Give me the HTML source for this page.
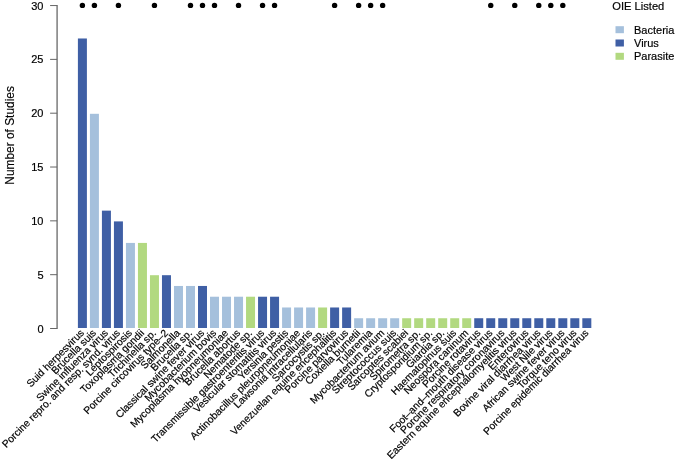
<!DOCTYPE html>
<html><head><meta charset="utf-8"><title>Number of Studies</title>
<style>html,body{margin:0;padding:0;background:#fff}svg{display:block}text{font-family:"Liberation Sans",Arial,Helvetica,sans-serif;fill:#000;stroke:#000;stroke-width:0.18px}</style></head><body>
<svg width="675" height="460" viewBox="0 0 675 460">
<rect width="675" height="460" fill="#fff"/>
<g stroke="#6e6e6e" stroke-width="1.1" fill="none">
<path d="M57.1 5.05 V329.00" stroke="#7c7c7c" stroke-width="1.5"/>
<path d="M50.1 328.50 H57.1" stroke="#666" stroke-width="1"/>
<path d="M50.1 274.68 H57.1" stroke="#666" stroke-width="1"/>
<path d="M50.1 220.85 H57.1" stroke="#666" stroke-width="1"/>
<path d="M50.1 167.02 H57.1" stroke="#666" stroke-width="1"/>
<path d="M50.1 113.20 H57.1" stroke="#666" stroke-width="1"/>
<path d="M50.1 59.38 H57.1" stroke="#666" stroke-width="1"/>
<path d="M50.1 5.55 H57.1" stroke="#666" stroke-width="1"/>
</g>
<g font-size="11" text-anchor="end">
<text x="43.5" y="332.60">0</text>
<text x="43.5" y="278.78">5</text>
<text x="43.5" y="224.95">10</text>
<text x="43.5" y="171.12">15</text>
<text x="43.5" y="117.30">20</text>
<text x="43.5" y="63.48">25</text>
<text x="43.5" y="9.65">30</text>
</g>
<text font-size="11.9" text-anchor="middle" style="stroke-width:0.15px" transform="translate(13.7 135.4) rotate(-90)">Number of Studies</text>
<rect x="77.90" y="38.48" width="9.00" height="289.52" fill="#3f5fa5"/>
<rect x="89.91" y="113.80" width="9.00" height="214.20" fill="#a5c0dc"/>
<rect x="101.92" y="210.64" width="9.00" height="117.36" fill="#3f5fa5"/>
<rect x="113.93" y="221.40" width="9.00" height="106.60" fill="#3f5fa5"/>
<rect x="125.94" y="242.92" width="9.00" height="85.08" fill="#a5c0dc"/>
<rect x="137.95" y="242.92" width="9.00" height="85.08" fill="#b2d980"/>
<rect x="149.96" y="275.20" width="9.00" height="52.80" fill="#b2d980"/>
<rect x="161.97" y="275.20" width="9.00" height="52.80" fill="#3f5fa5"/>
<rect x="173.98" y="285.96" width="9.00" height="42.04" fill="#a5c0dc"/>
<rect x="185.99" y="285.96" width="9.00" height="42.04" fill="#a5c0dc"/>
<rect x="198.00" y="285.96" width="9.00" height="42.04" fill="#3f5fa5"/>
<rect x="210.01" y="296.72" width="9.00" height="31.28" fill="#a5c0dc"/>
<rect x="222.02" y="296.72" width="9.00" height="31.28" fill="#a5c0dc"/>
<rect x="234.03" y="296.72" width="9.00" height="31.28" fill="#a5c0dc"/>
<rect x="246.04" y="296.72" width="9.00" height="31.28" fill="#b2d980"/>
<rect x="258.05" y="296.72" width="9.00" height="31.28" fill="#3f5fa5"/>
<rect x="270.06" y="296.72" width="9.00" height="31.28" fill="#3f5fa5"/>
<rect x="282.07" y="307.48" width="9.00" height="20.52" fill="#a5c0dc"/>
<rect x="294.08" y="307.48" width="9.00" height="20.52" fill="#a5c0dc"/>
<rect x="306.09" y="307.48" width="9.00" height="20.52" fill="#a5c0dc"/>
<rect x="318.10" y="307.48" width="9.00" height="20.52" fill="#b2d980"/>
<rect x="330.11" y="307.48" width="9.00" height="20.52" fill="#3f5fa5"/>
<rect x="342.12" y="307.48" width="9.00" height="20.52" fill="#3f5fa5"/>
<rect x="354.13" y="318.24" width="9.00" height="9.76" fill="#a5c0dc"/>
<rect x="366.14" y="318.24" width="9.00" height="9.76" fill="#a5c0dc"/>
<rect x="378.15" y="318.24" width="9.00" height="9.76" fill="#a5c0dc"/>
<rect x="390.16" y="318.24" width="9.00" height="9.76" fill="#a5c0dc"/>
<rect x="402.17" y="318.24" width="9.00" height="9.76" fill="#b2d980"/>
<rect x="414.18" y="318.24" width="9.00" height="9.76" fill="#b2d980"/>
<rect x="426.19" y="318.24" width="9.00" height="9.76" fill="#b2d980"/>
<rect x="438.20" y="318.24" width="9.00" height="9.76" fill="#b2d980"/>
<rect x="450.21" y="318.24" width="9.00" height="9.76" fill="#b2d980"/>
<rect x="462.22" y="318.24" width="9.00" height="9.76" fill="#b2d980"/>
<rect x="474.23" y="318.24" width="9.00" height="9.76" fill="#3f5fa5"/>
<rect x="486.24" y="318.24" width="9.00" height="9.76" fill="#3f5fa5"/>
<rect x="498.25" y="318.24" width="9.00" height="9.76" fill="#3f5fa5"/>
<rect x="510.26" y="318.24" width="9.00" height="9.76" fill="#3f5fa5"/>
<rect x="522.27" y="318.24" width="9.00" height="9.76" fill="#3f5fa5"/>
<rect x="534.28" y="318.24" width="9.00" height="9.76" fill="#3f5fa5"/>
<rect x="546.29" y="318.24" width="9.00" height="9.76" fill="#3f5fa5"/>
<rect x="558.30" y="318.24" width="9.00" height="9.76" fill="#3f5fa5"/>
<rect x="570.31" y="318.24" width="9.00" height="9.76" fill="#3f5fa5"/>
<rect x="582.32" y="318.24" width="9.00" height="9.76" fill="#3f5fa5"/>
<g fill="#000">
<circle cx="82.40" cy="5.4" r="2.7"/>
<circle cx="94.41" cy="5.4" r="2.7"/>
<circle cx="118.43" cy="5.4" r="2.7"/>
<circle cx="154.46" cy="5.4" r="2.7"/>
<circle cx="190.49" cy="5.4" r="2.7"/>
<circle cx="202.50" cy="5.4" r="2.7"/>
<circle cx="214.51" cy="5.4" r="2.7"/>
<circle cx="238.53" cy="5.4" r="2.7"/>
<circle cx="262.55" cy="5.4" r="2.7"/>
<circle cx="274.56" cy="5.4" r="2.7"/>
<circle cx="334.61" cy="5.4" r="2.7"/>
<circle cx="358.63" cy="5.4" r="2.7"/>
<circle cx="370.64" cy="5.4" r="2.7"/>
<circle cx="382.65" cy="5.4" r="2.7"/>
<circle cx="490.74" cy="5.4" r="2.7"/>
<circle cx="514.76" cy="5.4" r="2.7"/>
<circle cx="538.78" cy="5.4" r="2.7"/>
<circle cx="550.79" cy="5.4" r="2.7"/>
<circle cx="562.80" cy="5.4" r="2.7"/>
</g>
<g font-size="10.27" text-anchor="end">
<text transform="translate(84.70 333.70) rotate(-45)">Suid herpesvirus</text>
<text transform="translate(96.71 333.70) rotate(-45)">Brucella suis</text>
<text transform="translate(108.72 333.70) rotate(-45)">Swine influenza virus</text>
<text transform="translate(120.73 333.70) rotate(-45)">Porcine repro. and resp. synd. virus</text>
<text transform="translate(132.74 333.70) rotate(-45)">Leptospirosis</text>
<text transform="translate(144.75 333.70) rotate(-45)">Toxoplasma gondii</text>
<text transform="translate(156.76 333.70) rotate(-45)">Trichinella sp.</text>
<text transform="translate(168.77 333.70) rotate(-45)">Porcine circovirus type–2</text>
<text transform="translate(180.78 333.70) rotate(-45)">Salmonella</text>
<text transform="translate(192.79 333.70) rotate(-45)">Brucella sp.</text>
<text transform="translate(204.80 333.70) rotate(-45)">Classical swine fever virus</text>
<text transform="translate(216.81 333.70) rotate(-45)">Mycobacterium bovis</text>
<text transform="translate(228.82 333.70) rotate(-45)">Mycoplasma hyopneumoniae</text>
<text transform="translate(240.83 333.70) rotate(-45)">Brucella abortus</text>
<text transform="translate(252.84 333.70) rotate(-45)">Nematode sp.</text>
<text transform="translate(264.85 333.70) rotate(-45)">Transmissible gastroenteritis virus</text>
<text transform="translate(276.86 333.70) rotate(-45)">Vesicular stomatitis virus</text>
<text transform="translate(288.87 333.70) rotate(-45)">Yersinia pestis</text>
<text transform="translate(300.88 333.70) rotate(-45)">Actinobacillus pleuropneumoniae</text>
<text transform="translate(312.89 333.70) rotate(-45)">Lawsonia intracellularis</text>
<text transform="translate(324.90 333.70) rotate(-45)">Sarcocystis sp.</text>
<text transform="translate(336.91 333.70) rotate(-45)">Venezuelan equine encephalitis</text>
<text transform="translate(348.92 333.70) rotate(-45)">Porcine parvovirus</text>
<text transform="translate(360.93 333.70) rotate(-45)">Coxiella burnetii</text>
<text transform="translate(372.94 333.70) rotate(-45)">Tularemia</text>
<text transform="translate(384.95 333.70) rotate(-45)">Mycobacterium avium</text>
<text transform="translate(396.96 333.70) rotate(-45)">Streptococcus suis</text>
<text transform="translate(408.97 333.70) rotate(-45)">Sarcoptes scabiei</text>
<text transform="translate(420.98 333.70) rotate(-45)">Spirometra sp.</text>
<text transform="translate(432.99 333.70) rotate(-45)">Cryptosporidium sp.</text>
<text transform="translate(445.00 333.70) rotate(-45)">Giardia sp.</text>
<text transform="translate(457.01 333.70) rotate(-45)">Haematopinus suis</text>
<text transform="translate(469.02 333.70) rotate(-45)">Neospora caninum</text>
<text transform="translate(481.03 333.70) rotate(-45)">Porcine rotavirus</text>
<text transform="translate(493.04 333.70) rotate(-45)">Foot–and–mouth disease virus</text>
<text transform="translate(505.05 333.70) rotate(-45)">Porcine respiratory coronavirus</text>
<text transform="translate(517.06 333.70) rotate(-45)">Eastern equine encephalomyelitis virus</text>
<text transform="translate(529.07 333.70) rotate(-45)">Enterovirus</text>
<text transform="translate(541.08 333.70) rotate(-45)">Bovine viral diarrhea virus</text>
<text transform="translate(553.09 333.70) rotate(-45)">West Nile virus</text>
<text transform="translate(565.10 333.70) rotate(-45)">African swine fever virus</text>
<text transform="translate(577.11 333.70) rotate(-45)">Torque teno virus</text>
<text transform="translate(589.12 333.70) rotate(-45)">Porcine epidemic diarrhea virus</text>
</g>
<text font-size="11.15" x="612.3" y="10.0">OIE Listed</text>
<rect x="615.5" y="26.20" width="8.4" height="7" fill="#a5c0dc"/>
<text font-size="11" x="634" y="33.60">Bacteria</text>
<rect x="615.5" y="39.50" width="8.4" height="7" fill="#3f5fa5"/>
<text font-size="11" x="634" y="46.90">Virus</text>
<rect x="615.5" y="52.80" width="8.4" height="7" fill="#b2d980"/>
<text font-size="11" x="634" y="60.20">Parasite</text>
</svg></body></html>
